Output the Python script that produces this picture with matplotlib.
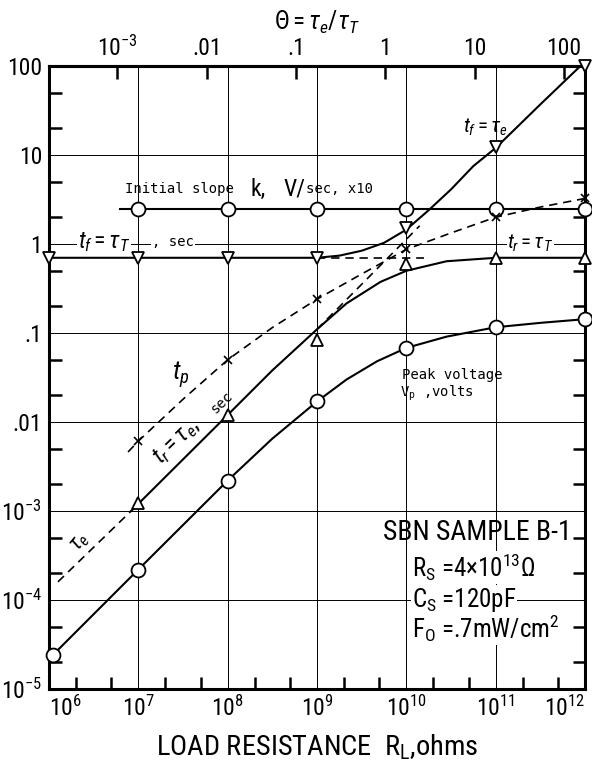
import matplotlib
matplotlib.use('Agg')
import matplotlib.pyplot as plt
from matplotlib import font_manager as fm
from matplotlib.ticker import FixedLocator, FixedFormatter, LogLocator, NullFormatter, NullLocator

names = {f.name for f in fm.fontManager.ttflist}
BASE = 'Liberation Sans'
for cand in ['Liberation Sans Narrow', 'Roboto Condensed', 'Open Sans Condensed']:
    if cand in names:
        BASE = cand
        break
plt.rcParams['font.family'] = [BASE, 'DejaVu Sans']
plt.rcParams['mathtext.fontset'] = 'custom'
plt.rcParams['mathtext.rm'] = BASE
plt.rcParams['mathtext.it'] = BASE + ':italic'
plt.rcParams['mathtext.bf'] = BASE + ':bold'
MONO = 'DejaVu Sans Mono'

# ---------------- data ----------------
tau_T = 0.7          # sec
C_S = 120e-12        # F  (theta = R_L * C_S / tau_T)

R_dec = [1e6, 1e7, 1e8, 1e9, 1e10, 1e11, 1e12]

# initial slope k (V/sec x10)
k_line_R = [6.2e6, 1e12]
k_line_v = [2.5, 2.5]
k_mark_R = [1e7, 1e8, 1e9, 1e10, 1e11, 1e12]
k_mark_v = [2.5, 2.5, 2.5, 2.5, 2.5, 2.5]

# fall time t_f
tf_line_R = [1e6, 1e9, 1.78e9, 3.16e9, 5.62e9, 1e10, 1.78e10, 3.16e10, 5.62e10, 1e11, 3.16e11, 1e12]
tf_line_v = [0.7, 0.7, 0.74, 0.84, 1.03, 1.45, 2.4, 4.1, 7.5, 12.0, 37.0, 112.0]
tf_mark_R = [1e6, 1e7, 1e8, 1e9, 1e10, 1e11, 1e12]
tf_mark_v = [0.7, 0.7, 0.7, 0.7, 1.5, 12.4, 100.0]

# rise time t_r
tr_line_R = [8.3e6, 1e8, 3.16e8, 1e9, 2.14e9, 5.13e9, 1e10, 2.82e10, 1e11, 1e12]
tr_line_v = [1.0e-3, 0.012, 0.038, 0.11, 0.215, 0.375, 0.5, 0.64, 0.7, 0.7]
tr_mark_R = [1e7, 1e8, 1e9, 1e10, 1e11, 1e12]
tr_mark_v = [1.22e-3, 0.0121, 0.083, 0.6, 0.7, 0.7]

# peak time t_p
tp_line_R = [7.67e6, 1e7, 3.16e7, 1e8, 3.16e8, 1e9, 3.16e9, 1e10, 3.16e10, 1e11, 3.16e11, 1e12]
tp_line_v = [4.6e-3, 6.1e-3, 0.018, 0.050, 0.115, 0.24, 0.46, 0.87, 1.33, 2.0, 2.6, 3.25]
tp_mark_R = [1e7, 1e8, 1e9, 1e10, 1e11, 1e12]
tp_mark_v = [6.1e-3, 0.050, 0.24, 0.87, 2.0, 3.25]

# peak voltage V_p
vp_line_R = [1.1e6, 1e7, 1e8, 3.16e8, 1e9, 2.14e9, 4.68e9, 1e10, 2.82e10, 1e11, 3.16e11, 1e12]
vp_line_v = [2.4e-5, 2.2e-4, 2.2e-3, 6.5e-3, 0.017, 0.03, 0.048, 0.068, 0.091, 0.116, 0.13, 0.143]
vp_mark_R = [1.1e6, 1e7, 1e8, 1e9, 1e10, 1e11, 1e12]
vp_mark_v = [2.4e-5, 2.2e-4, 2.2e-3, 0.017, 0.068, 0.116, 0.143]

# tau_e dashed asymptote pieces and tau_T dashed asymptote
tau_e_lo_R = [1.26e6, 8.3e6]
tau_e_lo_v = [1.6e-4, 1.0e-3]
tau_e_hi_R = [1e9, 1.41e10]
tau_e_hi_v = [0.11, 1.6]
tauT_R = [1e9, 1.58e10]
tauT_v = [0.7, 0.7]

x_labels = [r'$10^6$', r'$10^7$', r'$10^8$', r'$10^9$', r'$10^{10}$', r'$10^{11}$', r'$10^{12}$']
y_ticks = [1e-5, 1e-4, 1e-3, 1e-2, 1e-1, 1, 10, 100]
y_labels = [r'$10^{-5}$', r'$10^{-4}$', r'$10^{-3}$', '.01', '.1', '1', '10', '100']
theta_ticks = [1e-3, 1e-2, 1e-1, 1, 10, 100]
theta_labels = [r'$10^{-3}$', '.01', '.1', '1', '10', '100']

# ---------------- figure ----------------
W, H = 592, 764
fig = plt.figure(figsize=(W / 100, H / 100), dpi=100)
ax = fig.add_axes([49 / W, 1 - 689 / H, (585 - 49) / W, (689 - 66) / H])
ax.set_xscale('log')
ax.set_yscale('log')
ax.set_xlim(1e6, 1e12)
ax.set_ylim(1e-5, 100)

ax.xaxis.set_major_locator(FixedLocator(R_dec))
ax.xaxis.set_major_formatter(FixedFormatter(x_labels))
ax.yaxis.set_major_locator(FixedLocator(y_ticks))
ax.yaxis.set_major_formatter(FixedFormatter(y_labels))
ax.xaxis.set_minor_locator(LogLocator(base=10, subs=[2, 5], numticks=20))
ax.yaxis.set_minor_locator(LogLocator(base=10, subs=[2, 5], numticks=20))
ax.xaxis.set_minor_formatter(NullFormatter())
ax.yaxis.set_minor_formatter(NullFormatter())

ax.tick_params(which='major', direction='in', length=0, labelsize=17, pad=5,
               top=False, bottom=True, left=True, right=True)
ax.tick_params(which='minor', direction='in', length=9, width=1.8,
               top=False, bottom=True, left=True, right=True)
ax.grid(True, which='major', color='black', lw=0.7)
for s in ax.spines.values():
    s.set_linewidth(2.2)

xtl = ax.get_xticklabels()
xtl[0].set_horizontalalignment('left')
xtl[-1].set_horizontalalignment('right')

lw = 1.5
dash = (0, (5, 3.5))
ax.plot(k_line_R, k_line_v, color='black', lw=lw, zorder=3)
ax.plot(tf_line_R, tf_line_v, color='black', lw=lw, zorder=3)
ax.plot(tr_line_R, tr_line_v, color='black', lw=lw, zorder=3)
ax.plot(vp_line_R, vp_line_v, color='black', lw=lw, zorder=3)
ax.plot(tp_line_R, tp_line_v, color='black', lw=1.2, ls=dash, zorder=3)
ax.plot(tau_e_lo_R, tau_e_lo_v, color='black', lw=1.2, ls=dash, zorder=3)
ax.plot(tau_e_hi_R, tau_e_hi_v, color='black', lw=1.2, ls=dash, zorder=3)
ax.plot(tauT_R, tauT_v, color='black', lw=1.2, ls=dash, zorder=3)

mk = dict(ls='none', mfc='white', mec='black', mew=1.3, zorder=5, clip_on=False)
ax.plot(k_mark_R, k_mark_v, marker='o', ms=10, **mk)
ax.plot(vp_mark_R, vp_mark_v, marker='o', ms=10, **mk)
ax.plot(tf_mark_R, tf_mark_v, marker='v', ms=9, **mk)
ax.plot(tr_mark_R, tr_mark_v, marker='^', ms=9, **mk)
ax.plot(tp_mark_R, tp_mark_v, marker='x', ms=6, ls='none', color='black', mew=1.2,
        zorder=5, clip_on=False)

# top axis: theta = R_L C_S / tau_T
sec = ax.secondary_xaxis('top', functions=(lambda r: r * C_S / tau_T,
                                           lambda t: t * tau_T / C_S))
sec.xaxis.set_major_locator(FixedLocator(theta_ticks))
sec.xaxis.set_major_formatter(FixedFormatter(theta_labels))
sec.xaxis.set_minor_locator(NullLocator())
sec.tick_params(which='major', direction='in', length=9, width=1.8, labelsize=17, pad=4)
sec.spines['top'].set_linewidth(2.2)
sec.set_xlabel(r'$\Theta = \tau_e/\tau_T$', fontsize=18, labelpad=4)

ax.set_xlabel(r'LOAD RESISTANCE  R$_\mathregular{L}$,ohms', fontsize=20.5, labelpad=8)

# ---------------- annotations ----------------
wb = dict(facecolor='white', edgecolor='none', pad=0.5)
ax.text(7.1e6, 4.15, 'Initial slope', family=MONO, fontsize=10, ha='left', va='center')
ax.text(1.78e8, 4.15, 'k,', fontsize=17, ha='left', va='center')
ax.text(4.2e8, 4.15, 'V/', fontsize=17, ha='left', va='center')
ax.text(7.6e8, 4.15, 'sec, x10', family=MONO, fontsize=10, ha='left', va='center')
ax.text(2.1e6, 1.05, r'$t_f = \tau_T$', fontsize=17, ha='left', va='center', bbox=wb)
ax.text(1.42e7, 1.05, ', sec', family=MONO, fontsize=10, ha='left', va='center', bbox=wb)
ax.text(1.35e11, 1.03, r'$t_r = \tau_T$', fontsize=15, ha='left', va='center', bbox=wb)
ax.text(7.6e10, 20.6, r'$t_f = \tau_e$', fontsize=15, ha='center', va='center')
ax.text(3.0e7, 0.0337, r'$t_p$', fontsize=19, ha='center', va='center')
ax.text(2.7e7, 6.1e-3, r'$t_r = \tau_e,$', fontsize=17, ha='center', va='center',
        rotation=44, rotation_mode='anchor')
ax.text(8.6e7, 0.0165, 'sec', family=MONO, fontsize=10, ha='center', va='center',
        rotation=44, rotation_mode='anchor')
ax.text(2.2e6, 4.5e-4, r'$\tau_e$', fontsize=16, ha='center', va='center', rotation=50)
ax.text(3.3e10, 0.0337, 'Peak voltage', family=MONO, fontsize=10, ha='center', va='center')
ax.text(2.2e10, 0.0212, r'$\mathregular{V_p}$ ,volts', family=MONO, fontsize=10,
        ha='center', va='center')
ax.text(6.2e10, 5.8e-4, 'SBN SAMPLE B-1', fontsize=20, ha='center', va='center')
ax.text(1.16e10, 2.3e-4, r'$\mathregular{R_S}$ =4×10$^{13}$Ω', fontsize=18,
        ha='left', va='center', bbox=wb)
ax.text(1.16e10, 1.0e-4, r'$\mathregular{C_S}$ =120pF', fontsize=18,
        ha='left', va='center', bbox=wb)
ax.text(1.16e10, 4.8e-5, r'$\mathregular{F_O}$ =.7mW/cm$^2$', fontsize=18,
        ha='left', va='center', bbox=wb)

fig.savefig('out.png', dpi=100)
